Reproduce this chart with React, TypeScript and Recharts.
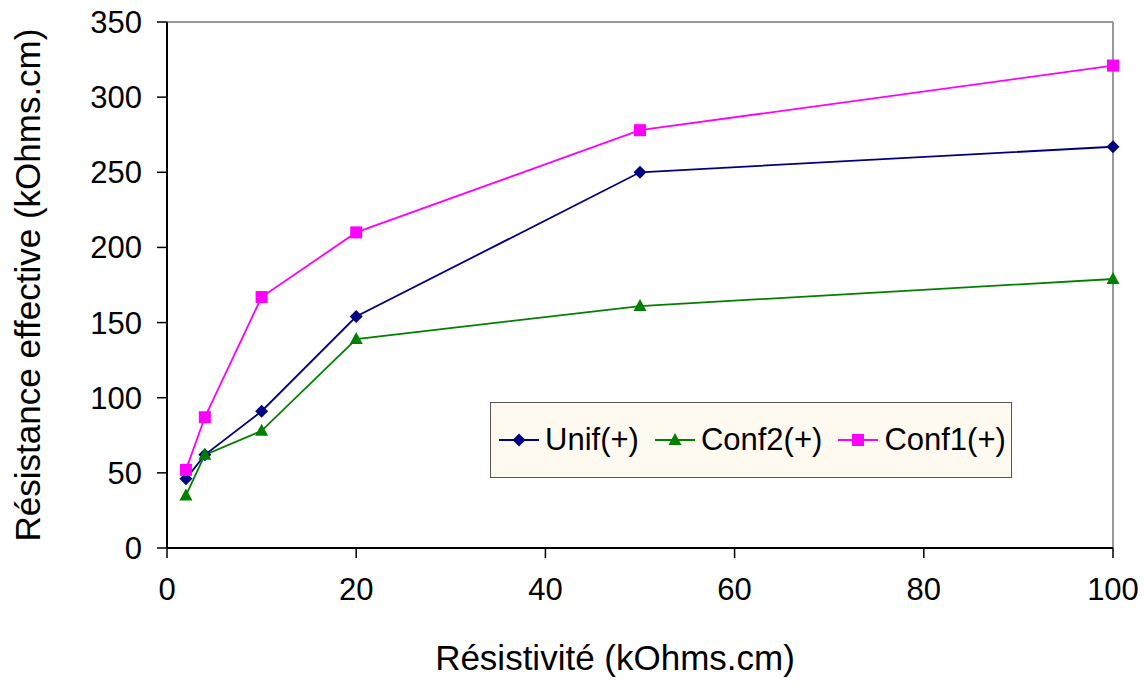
import React from "react"
import { Legend, Line, LineChart, ReferenceLine, XAxis, YAxis } from "recharts"

const resistivite = [2, 4, 10, 20, 50, 100]
const unif = [46, 62, 91, 154, 250, 267]
const conf2 = [35, 62, 78, 139, 161, 179]
const conf1 = [52, 87, 167, 210, 278, 321]

const xTicks = [0, 20, 40, 60, 80, 100]
const yTicks = [0, 50, 100, 150, 200, 250, 300, 350]

const data = resistivite.map((x, i) => ({
  x,
  unif: unif[i],
  conf2: conf2[i],
  conf1: conf1[i],
}))

const FONT = "'Liberation Sans', Arial, sans-serif"

const series = [
  { key: "unif", name: "Unif(+)", color: "#000080", shape: "diamond" },
  { key: "conf2", name: "Conf2(+)", color: "#008000", shape: "triangle" },
  { key: "conf1", name: "Conf1(+)", color: "#FF00FF", shape: "square" },
]

function Marker({ shape, cx, cy, color }: { shape: string; cx: number; cy: number; color: string }) {
  if (shape === "diamond") {
    const r = 6.5
    return <polygon points={`${cx},${cy - r} ${cx + r},${cy} ${cx},${cy + r} ${cx - r},${cy}`} fill={color} />
  }
  if (shape === "triangle") {
    return <polygon points={`${cx},${cy - 7} ${cx + 6.5},${cy + 5} ${cx - 6.5},${cy + 5}`} fill={color} />
  }
  return <rect x={cx - 6} y={cy - 6} width={12} height={12} fill={color} />
}

const makeDot = (shape: string, color: string) => (props: any) => {
  const { cx, cy, index } = props
  if (cx == null || cy == null) return <g key={index} />
  return (
    <g key={index}>
      <Marker shape={shape} cx={cx} cy={cy} color={color} />
    </g>
  )
}

function LegendBox() {
  return (
    <div
      style={{
        width: 522,
        height: 76,
        boxSizing: "border-box",
        border: "1px solid #555",
        background: "#FFFAF0",
        display: "flex",
        alignItems: "center",
        paddingLeft: 8,
        fontFamily: FONT,
        fontSize: 31,
        color: "#000",
      }}
    >
      {series.map((s) => (
        <div key={s.key} style={{ display: "flex", alignItems: "center", marginRight: 16 }}>
          <svg width={40} height={20}>
            <line x1={0} y1={10} x2={40} y2={10} stroke={s.color} strokeWidth={2} />
            <Marker shape={s.shape} cx={20} cy={10} color={s.color} />
          </svg>
          <span style={{ marginLeft: 6 }}>{s.name}</span>
        </div>
      ))}
    </div>
  )
}

export default function App() {
  return (
    <div style={{ position: "absolute", left: 0, top: 0, width: 1147, height: 684, background: "#fff" }}>
      <LineChart width={1147} height={684} data={data} margin={{ top: 22, right: 34, left: 0, bottom: 0 }}>
        <XAxis
          dataKey="x"
          type="number"
          domain={[0, 100]}
          ticks={xTicks}
          height={136}
          tickSize={10}
          tickMargin={20}
          axisLine={{ stroke: "#000", strokeWidth: 2 }}
          tickLine={{ stroke: "#000", strokeWidth: 1.5 }}
          tick={{ fill: "#000", fontSize: 31, fontFamily: FONT }}
          label={{
            value: "Résistivité (kOhms.cm)",
            position: "insideBottom",
            offset: 14,
            dx: -25,
            style: { fill: "#000", fontSize: 35, fontFamily: FONT },
          }}
        />
        <YAxis
          type="number"
          domain={[0, 350]}
          ticks={yTicks}
          width={167}
          tickSize={10}
          tickMargin={15}
          axisLine={{ stroke: "#000", strokeWidth: 2 }}
          tickLine={{ stroke: "#000", strokeWidth: 1.5 }}
          tick={{ fill: "#000", fontSize: 31, fontFamily: FONT }}
          label={{
            value: "Résistance effective (kOhms.cm)",
            angle: -90,
            position: "insideLeft",
            offset: 20,
            dx: 8,
            style: { fill: "#000", fontSize: 35, fontFamily: FONT, textAnchor: "middle" },
          }}
        />
        <ReferenceLine y={350} stroke="#999" strokeWidth={2} />
        <ReferenceLine x={100} stroke="#999" strokeWidth={2} />
        {series.map((s) => (
          <Line
            key={s.key}
            dataKey={s.key}
            name={s.name}
            type="linear"
            stroke={s.color}
            strokeWidth={1.8}
            dot={makeDot(s.shape, s.color)}
            activeDot={false}
            isAnimationActive={false}
          />
        ))}
        <Legend
          layout="horizontal"
          verticalAlign="middle"
          align="center"
          content={() => <LegendBox />}
          wrapperStyle={{ left: 490, top: 402, width: 522, height: 76 }}
        />
      </LineChart>
    </div>
  )
}
